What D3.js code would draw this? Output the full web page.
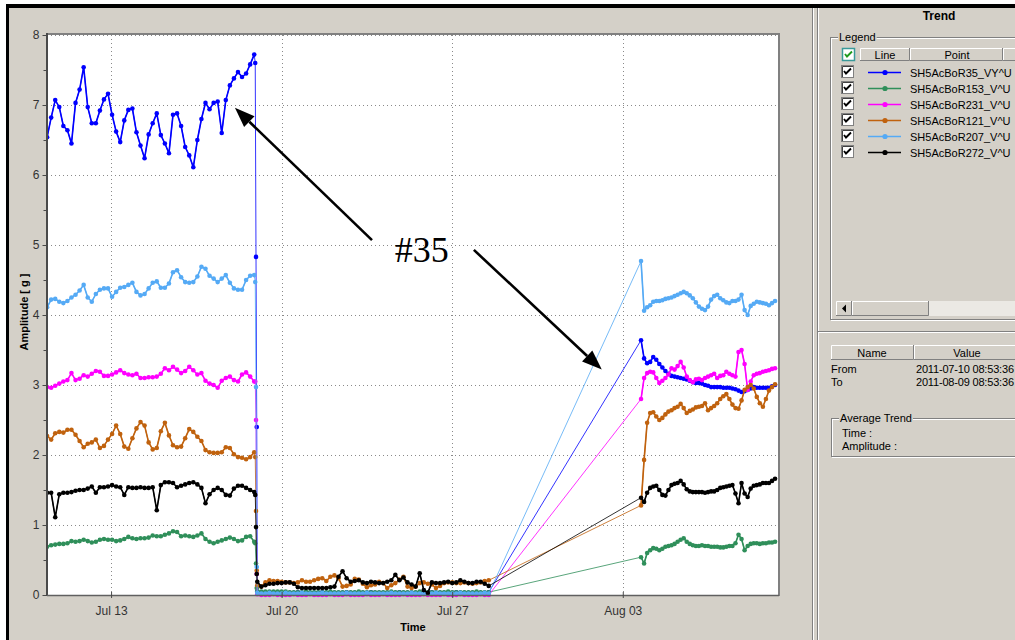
<!DOCTYPE html>
<html>
<head>
<meta charset="utf-8">
<script src="https://cdn.jsdelivr.net/npm/d3@7"></script>
<style>
  body { margin: 0; background: #fff; }
  svg { display: block; font-family: "Liberation Sans", Arial, sans-serif; }
</style>
</head>
<body>
<svg id="chart" width="1015" height="640"></svg>
<script>
// ---- sampling segments (time stamps shared by every point) ----
const segments = [
  { start: "2011-07-10T09:00", stepHours: 4,    count: 52 },
  { start: "2011-07-18T22:00", stepHours: 0.75, count: 3 },
  { start: "2011-07-19T00:00", stepHours: 4,    count: 58 },
  { start: "2011-08-03T18:00", stepHours: 3,    count: 45 }
];

// ---- series metadata ----
const pointNames = ["SH5AcBoR35_VY^U", "SH5AcBoR153_V^U", "SH5AcBoR231_V^U",
                    "SH5AcBoR121_V^U", "SH5AcBoR207_V^U", "SH5AcBoR272_V^U"];
const pointColors = ["#0000ff", "#2f8f5a", "#ff00ff", "#c0620e", "#55aaf5", "#000000"];

// ---- amplitude values [g] ----
const amp35 = [
  6.54,6.82,7.07,6.97,6.70,6.64,6.45,7.03,7.22,7.54, 6.97,6.74,6.74,6.92,7.08,7.16,6.86,6.62,6.47,6.78,
  6.93,6.95,6.61,6.42,6.24,6.58,6.74,6.88,6.57,6.45, 6.31,6.86,6.88,6.70,6.40,6.28,6.11,6.50,6.80,7.03,
  6.94,7.03,7.05,6.60,7.07,7.28,7.38,7.47,7.40,7.45, 7.58,7.72,
  7.60,4.83,2.40,
  0.05,0.04,0.03,0.03,0.03,0.04,0.03,0.03,0.03,0.03, 0.04,0.03,0.03,0.03,0.03,0.03,0.04,0.03,0.03,0.03,
  0.03,0.03,0.04,0.03,0.03,0.03,0.03,0.03,0.04,0.03, 0.03,0.03,0.03,0.03,0.03,0.04,0.03,0.03,0.03,0.03,
  0.03,0.03,0.03,0.04,0.03,0.03,0.03,0.03,0.03,0.04, 0.03,0.03,0.03,0.03,0.03,0.03,0.03,0.04,
  3.64,3.38,3.31,3.33,3.40,3.36,3.30,3.25,3.20,3.16, 3.13,3.12,3.11,3.10,3.09,3.08,3.06,3.04,3.03,3.03,
  3.02,3.00,2.99,2.97,2.97,2.97,2.97,2.96,2.96,2.96, 2.95,2.94,2.92,2.90,2.91,2.93,2.95,2.97,2.96,2.96,
  2.96,2.96,2.96,2.98,3.00
];
const amp153 = [
  0.69,0.71,0.72,0.73,0.73,0.74,0.77,0.76,0.77,0.79, 0.77,0.75,0.76,0.79,0.80,0.79,0.79,0.77,0.78,0.80,
  0.83,0.81,0.80,0.81,0.81,0.82,0.85,0.84,0.84,0.86, 0.88,0.91,0.90,0.84,0.85,0.84,0.83,0.85,0.88,0.80,
  0.76,0.74,0.76,0.78,0.80,0.82,0.80,0.77,0.78,0.83, 0.84,0.76,
  0.74,0.45,0.10,
  0.05,0.05,0.05,0.05,0.05,0.05,0.05,0.05,0.04,0.04, 0.04,0.04,0.05,0.04,0.04,0.04,0.04,0.04,0.05,0.04,
  0.04,0.04,0.04,0.04,0.04,0.05,0.04,0.04,0.04,0.04, 0.04,0.04,0.04,0.05,0.04,0.04,0.04,0.04,0.04,0.04,
  0.05,0.04,0.04,0.04,0.04,0.04,0.04,0.05,0.04,0.04, 0.04,0.04,0.04,0.04,0.05,0.04,0.04,0.04,
  0.54,0.45,0.60,0.64,0.67,0.66,0.64,0.66,0.69,0.70, 0.71,0.73,0.76,0.79,0.81,0.76,0.73,0.71,0.70,0.70,
  0.71,0.70,0.70,0.69,0.69,0.69,0.68,0.68,0.69,0.70, 0.70,0.74,0.86,0.80,0.64,0.70,0.73,0.74,0.74,0.73,
  0.74,0.74,0.75,0.75,0.76
];
const amp231 = [
  2.97,2.96,2.99,3.02,3.05,3.07,3.17,3.07,3.09,3.14, 3.12,3.16,3.20,3.19,3.13,3.13,3.15,3.18,3.21,3.17,
  3.15,3.14,3.16,3.10,3.10,3.11,3.11,3.12,3.16,3.24, 3.21,3.26,3.22,3.17,3.20,3.26,3.21,3.15,3.17,3.06,
  3.02,3.00,2.96,3.06,3.10,3.12,3.07,3.05,3.15,3.18, 3.12,3.05,
  3.05,2.50,0.30,
  0.01,0.00,0.00,0.00,0.01,0.00,0.00,0.00,0.00,0.01, 0.00,0.00,0.00,0.01,0.00,0.00,0.00,0.00,0.01,0.00,
  0.00,0.00,0.01,0.00,0.00,0.00,0.00,0.01,0.00,0.00, 0.00,0.01,0.00,0.00,0.00,0.00,0.01,0.00,0.00,0.00,
  0.00,0.01,0.00,0.00,0.00,0.00,0.01,0.00,0.00,0.00, 0.01,0.00,0.00,0.00,0.00,0.01,0.00,0.00,
  2.80,3.10,3.17,3.19,3.18,3.10,3.03,3.06,3.10,3.15, 3.24,3.22,3.27,3.33,3.25,3.12,3.07,3.04,3.08,3.09,
  3.07,3.10,3.12,3.14,3.16,3.10,3.13,3.14,3.19,3.16, 3.14,3.12,3.47,3.50,3.30,2.93,3.05,3.14,3.16,3.17,
  3.19,3.20,3.21,3.23,3.24
];
const amp121 = [
  2.27,2.22,2.31,2.33,2.32,2.36,2.36,2.29,2.20,2.11, 2.16,2.18,2.22,2.10,2.13,2.22,2.30,2.42,2.30,2.12,
  2.09,2.24,2.38,2.47,2.42,2.18,2.08,2.10,2.34,2.46, 2.28,2.14,2.11,2.12,2.24,2.37,2.33,2.26,2.20,2.07,
  2.04,2.03,2.03,2.04,2.11,2.10,2.01,1.97,1.96,1.94, 1.97,2.04,
  1.97,1.20,0.35,
  0.14,0.12,0.18,0.21,0.20,0.20,0.19,0.18,0.18,0.17, 0.18,0.21,0.19,0.19,0.21,0.23,0.24,0.20,0.26,0.28,
  0.24,0.12,0.13,0.15,0.23,0.22,0.16,0.11,0.14,0.15, 0.19,0.17,0.10,0.14,0.17,0.22,0.26,0.12,0.10,0.12,
  0.17,0.18,0.16,0.15,0.10,0.13,0.17,0.18,0.18,0.17, 0.17,0.18,0.17,0.16,0.17,0.18,0.20,0.21,
  1.28,1.93,2.46,2.60,2.61,2.55,2.50,2.53,2.58,2.62, 2.64,2.67,2.69,2.73,2.67,2.60,2.63,2.65,2.68,2.69,
  2.70,2.74,2.64,2.67,2.70,2.74,2.80,2.84,2.87,2.80, 2.72,2.67,2.66,2.78,2.93,2.97,3.00,2.95,2.83,2.74,
  2.69,2.80,2.92,2.97,3.01
];
const amp207 = [
  4.11,4.22,4.23,4.19,4.17,4.20,4.25,4.29,4.35,4.43, 4.25,4.19,4.30,4.36,4.38,4.38,4.26,4.33,4.39,4.40,
  4.43,4.46,4.33,4.28,4.30,4.38,4.46,4.48,4.39,4.39, 4.45,4.61,4.64,4.54,4.47,4.46,4.47,4.55,4.69,4.66,
  4.56,4.52,4.47,4.52,4.57,4.46,4.38,4.36,4.36,4.50, 4.56,4.57,
  4.47,2.97,0.40,
  0.03,0.02,0.02,0.03,0.02,0.02,0.02,0.03,0.02,0.02, 0.02,0.03,0.02,0.02,0.02,0.02,0.03,0.02,0.02,0.02,
  0.02,0.02,0.03,0.02,0.02,0.02,0.02,0.03,0.02,0.02, 0.02,0.02,0.02,0.03,0.02,0.02,0.02,0.02,0.03,0.02,
  0.02,0.02,0.02,0.02,0.03,0.02,0.02,0.02,0.02,0.02, 0.03,0.02,0.02,0.02,0.02,0.02,0.03,0.02,
  4.77,4.06,4.11,4.14,4.19,4.20,4.20,4.21,4.23,4.24, 4.25,4.27,4.29,4.31,4.33,4.31,4.28,4.24,4.18,4.12,
  4.09,4.07,4.12,4.22,4.27,4.29,4.24,4.21,4.18,4.17, 4.20,4.20,4.22,4.29,4.07,4.00,4.13,4.16,4.19,4.18,
  4.17,4.16,4.14,4.17,4.20
];
const amp272 = [
  1.46,1.46,1.11,1.44,1.46,1.46,1.47,1.49,1.50,1.50, 1.52,1.55,1.46,1.54,1.54,1.55,1.57,1.55,1.54,1.43,
  1.54,1.53,1.53,1.54,1.53,1.53,1.54,1.21,1.57,1.61, 1.61,1.60,1.54,1.56,1.58,1.60,1.61,1.58,1.53,1.31,
  1.44,1.50,1.53,1.50,1.43,1.42,1.52,1.56,1.56,1.53, 1.50,1.47,
  1.43,0.97,0.30,
  0.19,0.12,0.14,0.16,0.16,0.17,0.17,0.18,0.18,0.16, 0.11,0.10,0.10,0.10,0.10,0.10,0.10,0.10,0.11,0.12,
  0.26,0.34,0.24,0.19,0.20,0.21,0.18,0.17,0.19,0.18, 0.17,0.17,0.19,0.21,0.29,0.21,0.25,0.18,0.15,0.12,
  0.31,0.07,0.03,0.18,0.17,0.17,0.18,0.19,0.17,0.18, 0.21,0.19,0.17,0.17,0.19,0.19,0.16,0.13,
  1.39,1.33,1.46,1.53,1.55,1.56,1.50,1.43,1.42,1.50, 1.57,1.59,1.60,1.63,1.58,1.51,1.48,1.47,1.47,1.47,
  1.47,1.46,1.47,1.48,1.48,1.50,1.53,1.54,1.55,1.56, 1.57,1.45,1.31,1.60,1.45,1.40,1.52,1.56,1.57,1.58,
  1.60,1.60,1.60,1.63,1.66
];
const seriesValues = [amp35, amp153, amp231, amp121, amp207, amp272];

// ---- axis settings ----
const timeRange = ["2011-07-10T08:53:36", "2011-08-09T08:53:36"];
const timeTickLabels = ["2011-07-13T00:00", "2011-07-20T00:00", "2011-07-27T00:00", "2011-08-03T00:00"];
const ampTicks = [0, 1, 2, 3, 4, 5, 6, 7, 8];
const ampMinorTicks = [0.5, 1.5, 2.5, 3.5, 4.5, 5.5, 6.5, 7.5];

// ---- side panel text ----
const fromText = "2011-07-10 08:53:36";
const toText = "2011-08-09 08:53:36";

// ---- annotation anchored in data space ----
const noteLabel = { time: "2011-07-25T18:00", value: 4.93, text: "#35" };
const noteArrows = [
  { from: { time: "2011-07-23T17:00", value: 5.07 }, to: { time: "2011-07-18T02:00", value: 6.96 } },
  { from: { time: "2011-07-27T21:20", value: 4.93 }, to: { time: "2011-08-02T03:20", value: 3.22 } }
];

// =====================================================================
const W = 1015, H = 640;
const parseT = d3.timeParse("%Y-%m-%dT%H:%M");
const parseTS = d3.timeParse("%Y-%m-%dT%H:%M:%S");

// time stamps plus the index range of each sampling run
const times = [];
const runs = [];
segments.forEach(s => {
  const t0 = parseT(s.start);
  const first = times.length;
  for (let i = 0; i < s.count; i++) times.push(new Date(+t0 + i * s.stepHours * 3600e3));
  runs.push({ first, last: times.length - 1, dense: s.stepHours >= 3 });
});

const svg = d3.select("#chart");

// window frame
svg.append("rect").attr("width", W).attr("height", H).attr("fill", "#fff");
svg.append("rect").attr("x", 6).attr("y", 4).attr("width", W - 6).attr("height", H - 4).attr("fill", "#000");
svg.append("rect").attr("x", 9).attr("y", 8).attr("width", W - 9).attr("height", H - 8).attr("fill", "#d4d0c8");

const P = { left: 47, top: 35, right: 778, bottom: 595 };
const x = d3.scaleTime().domain(timeRange.map(parseTS)).range([P.left, P.right]);
const y = d3.scaleLinear().domain([0, 8]).range([P.bottom, P.top]);

// plot background
svg.append("rect").attr("x", P.left).attr("y", P.top)
  .attr("width", P.right - P.left).attr("height", P.bottom - P.top).attr("fill", "#fff");

// dotted grid
const grid = svg.append("g").attr("stroke", "#8a8a8a").attr("stroke-width", 1).attr("stroke-dasharray", "1,3");
grid.selectAll("line.h").data(ampTicks.slice(1)).join("line")
  .attr("x1", P.left).attr("x2", P.right)
  .attr("y1", d => Math.round(y(d)) + 0.5).attr("y2", d => Math.round(y(d)) + 0.5);
grid.selectAll("line.v").data(timeTickLabels.map(parseT)).join("line")
  .attr("y1", P.top).attr("y2", P.bottom)
  .attr("x1", d => Math.round(x(d)) + 0.5).attr("x2", d => Math.round(x(d)) + 0.5);

// plot frame
svg.append("line").attr("x1", P.left).attr("x2", P.right + 2).attr("y1", P.top - 1).attr("y2", P.top - 1)
  .attr("stroke", "#808080").attr("stroke-width", 2);
svg.append("line").attr("x1", P.right + 1).attr("x2", P.right + 1).attr("y1", P.top - 2).attr("y2", P.bottom + 1)
  .attr("stroke", "#808080").attr("stroke-width", 2);

// series
svg.append("defs").append("clipPath").attr("id", "plotClip")
  .append("rect").attr("x", P.left).attr("y", P.top - 4)
  .attr("width", P.right - P.left).attr("height", P.bottom - P.top + 7);
const plotG = svg.append("g").attr("clip-path", "url(#plotClip)");
const line = d3.line().x(d => x(d.t)).y(d => y(d.v));

seriesValues.forEach((vals, si) => {
  const pts = vals.map((v, i) => ({ t: times[i], v }));
  const g = plotG.append("g");
  // thin connector through every sample (drops and gaps included)
  g.append("path").attr("d", line(pts)).attr("fill", "none")
    .attr("stroke", pointColors[si]).attr("stroke-width", 1).attr("stroke-opacity", 0.8);
  // slightly heavier trace inside each regular sampling run
  runs.filter(r => r.dense).forEach(r => {
    g.append("path").attr("d", line(pts.slice(r.first, r.last + 1))).attr("fill", "none")
      .attr("stroke", pointColors[si]).attr("stroke-width", 1.6).attr("stroke-linejoin", "round");
  });
  g.selectAll("circle").data(pts).join("circle")
    .attr("cx", d => x(d.t)).attr("cy", d => y(d.v)).attr("r", 2.3)
    .attr("fill", pointColors[si]);
});

// axes
svg.append("line").attr("x1", P.left).attr("x2", P.left).attr("y1", P.top - 2).attr("y2", P.bottom + 1)
  .attr("stroke", "#4a4a4a").attr("stroke-width", 2);
svg.append("line").attr("x1", P.left).attr("x2", P.right + 1).attr("y1", P.bottom + 0.5).attr("y2", P.bottom + 0.5)
  .attr("stroke", "#606060").attr("stroke-width", 1.5);

const yAxis = d3.axisLeft(y).tickValues(ampTicks).tickSize(4).tickPadding(3).tickFormat(d3.format("d"));
const yg = svg.append("g").attr("transform", `translate(${P.left - 0.5},0)`).call(yAxis);
yg.select(".domain").remove();
yg.selectAll("line").attr("stroke", "#4a4a4a");
yg.selectAll("text").attr("font-size", 12).attr("fill", "#333").attr("font-family", "Liberation Sans, Arial, sans-serif");
const yMinor = d3.axisLeft(y).tickValues(ampMinorTicks).tickSize(3).tickFormat("");
const ymg = svg.append("g").attr("transform", `translate(${P.left - 0.5},0)`).call(yMinor);
ymg.select(".domain").remove();
ymg.selectAll("line").attr("stroke", "#4a4a4a");

const xAxis = d3.axisBottom(x).tickValues(timeTickLabels.map(parseT)).tickSize(3).tickPadding(8)
  .tickFormat(d3.timeFormat("%b %d"));
const xg = svg.append("g").attr("transform", `translate(0,${P.bottom})`).call(xAxis);
xg.select(".domain").remove();
xg.selectAll("line").attr("stroke", "#4a4a4a").attr("y1", -3);
xg.selectAll("text").attr("font-size", 12).attr("fill", "#333").attr("font-family", "Liberation Sans, Arial, sans-serif");

// axis titles
svg.append("text").attr("transform", "translate(28,312) rotate(-90)")
  .attr("text-anchor", "middle").attr("font-size", 11).attr("font-weight", "bold").text("Amplitude [ g ]");
svg.append("text").attr("x", 413).attr("y", 631).attr("text-anchor", "middle")
  .attr("font-size", 11).attr("font-weight", "bold").text("Time");

// annotation
svg.append("text")
  .attr("x", x(parseT(noteLabel.time))).attr("y", y(noteLabel.value))
  .attr("text-anchor", "middle").attr("dominant-baseline", "central")
  .attr("font-family", "Liberation Serif, 'Times New Roman', serif").attr("font-size", 36)
  .text(noteLabel.text);
noteArrows.forEach(a => {
  const x0 = x(parseT(a.from.time)), y0 = y(a.from.value);
  const x1 = x(parseT(a.to.time)), y1 = y(a.to.value);
  const dx = x1 - x0, dy = y1 - y0, len = Math.hypot(dx, dy);
  const ux = dx / len, uy = dy / len, headL = 20, headW = 7.5;
  const bx = x1 - ux * headL, by = y1 - uy * headL;
  svg.append("line").attr("x1", x0).attr("y1", y0).attr("x2", bx).attr("y2", by)
    .attr("stroke", "#000").attr("stroke-width", 2.6);
  svg.append("polygon")
    .attr("points", [[x1, y1], [bx - uy * headW, by + ux * headW], [bx + uy * headW, by - ux * headW]].map(p => p.join(",")).join(" "))
    .attr("fill", "#000");
});

// ---------------- side panel ----------------
function vEtch(xp, y0, y1) {
  svg.append("line").attr("x1", xp + 0.5).attr("x2", xp + 0.5).attr("y1", y0).attr("y2", y1).attr("stroke", "#808080");
  svg.append("line").attr("x1", xp + 1.5).attr("x2", xp + 1.5).attr("y1", y0).attr("y2", y1).attr("stroke", "#fff");
}
function hEtch(x0, x1, yp) {
  svg.append("line").attr("x1", x0).attr("x2", x1).attr("y1", yp + 0.5).attr("y2", yp + 0.5).attr("stroke", "#808080");
  svg.append("line").attr("x1", x0).attr("x2", x1).attr("y1", yp + 1.5).attr("y2", yp + 1.5).attr("stroke", "#fff");
}
function groupBox(x0, y0, w, h, label) {
  svg.append("rect").attr("x", x0 + 1.5).attr("y", y0 + 1.5).attr("width", w).attr("height", h)
    .attr("fill", "none").attr("stroke", "#fff");
  svg.append("rect").attr("x", x0 + 0.5).attr("y", y0 + 0.5).attr("width", w).attr("height", h)
    .attr("fill", "none").attr("stroke", "#808080");
  const t = svg.append("text").attr("x", x0 + 9).attr("y", y0 + 4).attr("font-size", 11).text(label);
  const bb = t.node().getBBox();
  svg.insert("rect", () => t.node()).attr("x", bb.x - 1).attr("y", y0 - 2).attr("width", bb.width + 2).attr("height", 6)
    .attr("fill", "#d4d0c8");
}
function button(x0, y0, w, h) {
  svg.append("rect").attr("x", x0).attr("y", y0).attr("width", w).attr("height", h).attr("fill", "#d4d0c8");
  svg.append("path").attr("d", `M${x0 + 0.5},${y0 + h}V${y0 + 0.5}H${x0 + w}`).attr("stroke", "#fff").attr("fill", "none");
  svg.append("path").attr("d", `M${x0},${y0 + h - 0.5}H${x0 + w - 0.5}V${y0}`).attr("stroke", "#808080").attr("fill", "none");
}
function checkBox(x0, y0, headerStyle) {
  svg.append("rect").attr("x", x0 + 0.5).attr("y", y0 + 0.5).attr("width", 12).attr("height", 12)
    .attr("fill", "#fff").attr("stroke", headerStyle ? "#3a9a9a" : "#808080").attr("stroke-width", headerStyle ? 1.5 : 1);
  if (!headerStyle) {
    svg.append("path").attr("d", `M${x0 + 1.5},${y0 + 12}V${y0 + 1.5}H${x0 + 12}`).attr("stroke", "#404040").attr("fill", "none");
  }
  svg.append("polyline").attr("points", `${x0 + 3},${y0 + 6} ${x0 + 5},${y0 + 8.5} ${x0 + 10},${y0 + 3.5}`)
    .attr("fill", "none").attr("stroke", headerStyle ? "#1e9a1e" : "#000").attr("stroke-width", 1.9);
}

vEtch(812, 8, H);
vEtch(817, 8, H);

svg.append("text").attr("x", 939).attr("y", 20).attr("text-anchor", "middle")
  .attr("font-size", 12).attr("font-weight", "bold").text("Trend");

groupBox(830, 37, 200, 282, "Legend");

// legend list header
button(860, 48, 50, 13);
button(910, 48, 93, 13);
button(1003, 48, 20, 13);
checkBox(842, 48, true);
svg.append("text").attr("x", 885).attr("y", 58.5).attr("text-anchor", "middle").attr("font-size", 11).text("Line");
svg.append("text").attr("x", 957).attr("y", 58.5).attr("text-anchor", "middle").attr("font-size", 11).text("Point");

// legend rows
pointNames.forEach((name, i) => {
  const cy = 72 + 16 * i;
  checkBox(841, cy - 7, false);
  svg.append("line").attr("x1", 868).attr("x2", 901).attr("y1", cy + 0.5).attr("y2", cy + 0.5)
    .attr("stroke", pointColors[i]).attr("stroke-width", 1.3);
  svg.append("circle").attr("cx", 885).attr("cy", cy + 0.5).attr("r", 2.6).attr("fill", pointColors[i]);
  svg.append("text").attr("x", 910).attr("y", cy + 4.5).attr("font-size", 11).text(name);
});

// scroll bar
svg.append("rect").attr("x", 852).attr("y", 301).attr("width", 170).attr("height", 15).attr("fill", "#ebe9e4");
button(836, 301, 16, 15);
svg.append("path").attr("d", "M842,308.5 L846,304.5 L846,312.5 Z").attr("fill", "#000");
button(852, 301, 77, 15);

hEtch(818, W, 331);

// name / value table
button(831, 345, 83, 15);
button(914, 345, 110, 15);
svg.append("text").attr("x", 872).attr("y", 356.5).attr("text-anchor", "middle").attr("font-size", 11).text("Name");
svg.append("text").attr("x", 967).attr("y", 356.5).attr("text-anchor", "middle").attr("font-size", 11).text("Value");
svg.append("text").attr("x", 831).attr("y", 373).attr("font-size", 11).text("From");
svg.append("text").attr("x", 831).attr("y", 386).attr("font-size", 11).text("To");
svg.append("text").attr("x", 916).attr("y", 373).attr("font-size", 11).attr("textLength", 98).text(fromText);
svg.append("text").attr("x", 916).attr("y", 386).attr("font-size", 11).attr("textLength", 98).text(toText);

groupBox(831, 418, 200, 38, "Average Trend");
svg.append("text").attr("x", 842).attr("y", 437).attr("font-size", 11).text("Time :");
svg.append("text").attr("x", 842).attr("y", 450).attr("font-size", 11).text("Amplitude :");
</script>
</body>
</html>
